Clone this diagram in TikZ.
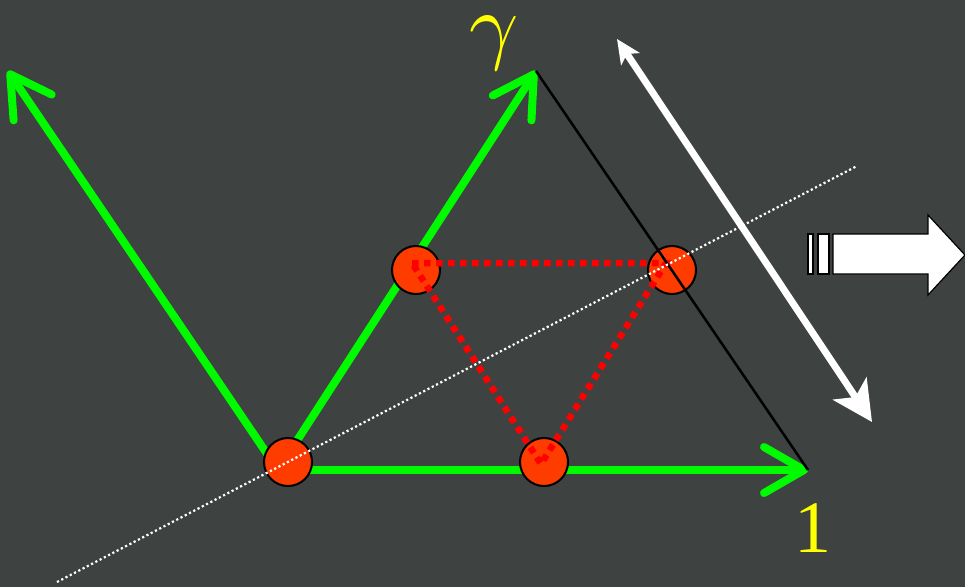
\documentclass[tikz,border=0pt]{standalone}
\usepackage{fontspec}
\setmainfont{Liberation Serif}
\usepackage{xcolor}
\usetikzlibrary{arrows.meta}
\definecolor{board}{RGB}{62,66,65}
\definecolor{vecgreen}{RGB}{0,250,0}
\definecolor{dotred}{RGB}{255,60,0}
\definecolor{labelyellow}{RGB}{255,255,0}

\begin{document}
\begin{tikzpicture}[
    x=1pt, y=-1pt,
    vec/.style={draw=vecgreen, line width=8pt, line cap=round, -{Straight Barb[length=40pt, width=46pt, round]}},
    pt/.style={circle, draw=black, line width=2pt, fill=dotred, minimum size=48pt, inner sep=0pt},
    simplex/.style={draw=red, line width=6.5pt, dash pattern=on 6.5pt off 5.5pt},
    lbl/.style={text=labelyellow, inner sep=0pt, font=\fontsize{74}{80}\selectfont},
    bigarrow/.style={draw=black, line width=1.2pt, fill=white}
  ]
    \useasboundingbox[fill=board] (0,0) rectangle (965,587);

    % axes
    \coordinate (o) at (278,470);
    \coordinate (u) at (8,71);
    \coordinate (g) at (536,71);
    \coordinate (e) at (808,470);
    \draw[vec] (o) -- (u);
    \draw[vec] (o) -- (g);
    \draw[vec] (o) -- (e);

    % points
    \node[pt] (p0) at (288,462) {};
    \node[pt] (p1) at (416,270) {};
    \node[pt] (p2) at (672,270) {};
    \node[pt] (p3) at (544,462) {};

    \coordinate (ta) at (412,263);
    \coordinate (tb) at (666,263);
    \coordinate (tc) at (541,464);
    \draw[simplex] (ta) -- (tb) -- (tc) -- cycle;

    \draw[black, line width=2.5pt] (g) -- (e);

    \coordinate (d0) at (57,582);
    \coordinate (d1) at (857,166);
    \draw[white, line width=2.2pt, dash pattern=on 2.2pt off 2.6pt] (d0) -- (d1);

    \coordinate (w0) at (617,39);
    \coordinate (w1) at (872,422);
    \draw[white, line width=7pt, {Stealth[length=24pt, width=22pt, inset=6pt]}-{Stealth[length=40pt, width=40pt, inset=10pt]}] (w0) -- (w1);

    % labels
    \node[text=labelyellow, inner sep=0pt, scale=8.6] (gam) at (494,43) {$\gamma$};
    \node[lbl] (one) at (813,528) {1};

    % block arrow
    \draw[bigarrow] (808,234) rectangle (813,274);
    \draw[bigarrow] (818,234) rectangle (829,274);
    \draw[bigarrow] (833,234) -- (928,234) -- (928,215) -- (965,255)
      -- (928,295) -- (928,274) -- (833,274) -- cycle;
  \end{tikzpicture}
\end{document}
